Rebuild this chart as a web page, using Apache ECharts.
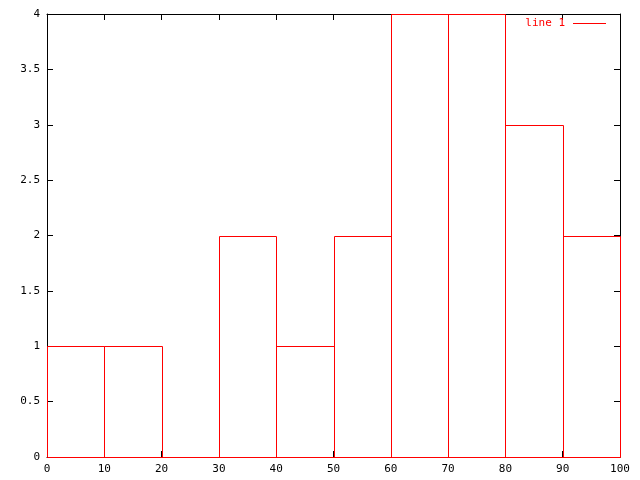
<!DOCTYPE html>
<html>
<head>
<meta charset="utf-8">
<script src="https://cdn.jsdelivr.net/npm/echarts@6/dist/echarts.min.js"></script>
<style>html,body{margin:0;padding:0;background:#fff;}#c{width:640px;height:480px;}</style>
</head>
<body>
<div id="c"></div>
<script>
var binStart = ['0', '10', '20', '30', '40', '50', '60', '70', '80', '90'];
var counts = [1, 1, 0, 2, 1, 2, 4, 4, 3, 2];
var seriesName = 'line 1';

var FONT = 'DejaVu Sans Mono';
var data = counts.map(function (c, i) { return [i, c]; });
var chart = echarts.init(document.getElementById('c'), null, {renderer: 'canvas'});
var tickStyle = {show: true, inside: true, length: 6, lineStyle: {color: '#000', width: 1}};
var lineStyle = {show: true, onZero: false, lineStyle: {color: '#000', width: 1}};
chart.setOption({
  animation: false,
  backgroundColor: '#fff',
  grid: {left: 47, top: 14, right: 20, bottom: 23, containLabel: false},
  legend: {
    data: [{name: seriesName, icon: 'rect', itemStyle: {color: '#ff0000', borderWidth: 0}}],
    right: 34, top: 18, padding: 0, align: 'right', itemWidth: 33, itemHeight: 1,
    textStyle: {color: '#ff0000', fontFamily: FONT, fontSize: 11, padding: [0, 3, 0, 0]}
  },
  xAxis: [
    {type: 'category', data: binStart, boundaryGap: true, show: false},
    {type: 'value', position: 'bottom', min: 0, max: 100, interval: 10,
     axisLine: lineStyle, axisTick: tickStyle, splitLine: {show: false},
     axisLabel: {color: '#000', fontFamily: FONT, fontSize: 11, margin: 7}},
    {type: 'value', position: 'top', min: 0, max: 100, interval: 10,
     axisLine: lineStyle, axisTick: tickStyle, splitLine: {show: false},
     axisLabel: {show: false}}
  ],
  yAxis: [
    {type: 'value', position: 'left', min: 0, max: 4, interval: 0.5,
     axisLine: lineStyle, axisTick: tickStyle, splitLine: {show: false},
     axisLabel: {color: '#000', fontFamily: FONT, fontSize: 11, margin: 7}},
    {type: 'value', position: 'right', min: 0, max: 4, interval: 0.5,
     axisLine: lineStyle, axisTick: tickStyle, splitLine: {show: false},
     axisLabel: {show: false}}
  ],
  series: [{
    name: seriesName,
    type: 'custom',
    xAxisIndex: 0, yAxisIndex: 0,
    zlevel: 1,
    z: 100,
    clip: false,
    silent: true,
    itemStyle: {color: '#ff0000'},
    emphasis: {disabled: true},
    data: data,
    renderItem: function (params, api) {
      var top = api.coord([api.value(0), api.value(1)]);
      var base = api.coord([api.value(0), 0]);
      var w = api.size([1, 0])[0];
      var x0 = Math.round(top[0] - w / 2) + 0.5, x1 = Math.round(top[0] + w / 2) + 0.5;
      var y0 = Math.round(top[1]) + 0.5, y1 = Math.round(base[1]) + 0.5;
      return {
        type: 'rect',
        shape: {x: x0, y: y0, width: x1 - x0, height: y1 - y0},
        style: {fill: 'rgba(0,0,0,0)', stroke: '#ff0000', lineWidth: 1}
      };
    }
  }]
});
</script>
</body>
</html>
